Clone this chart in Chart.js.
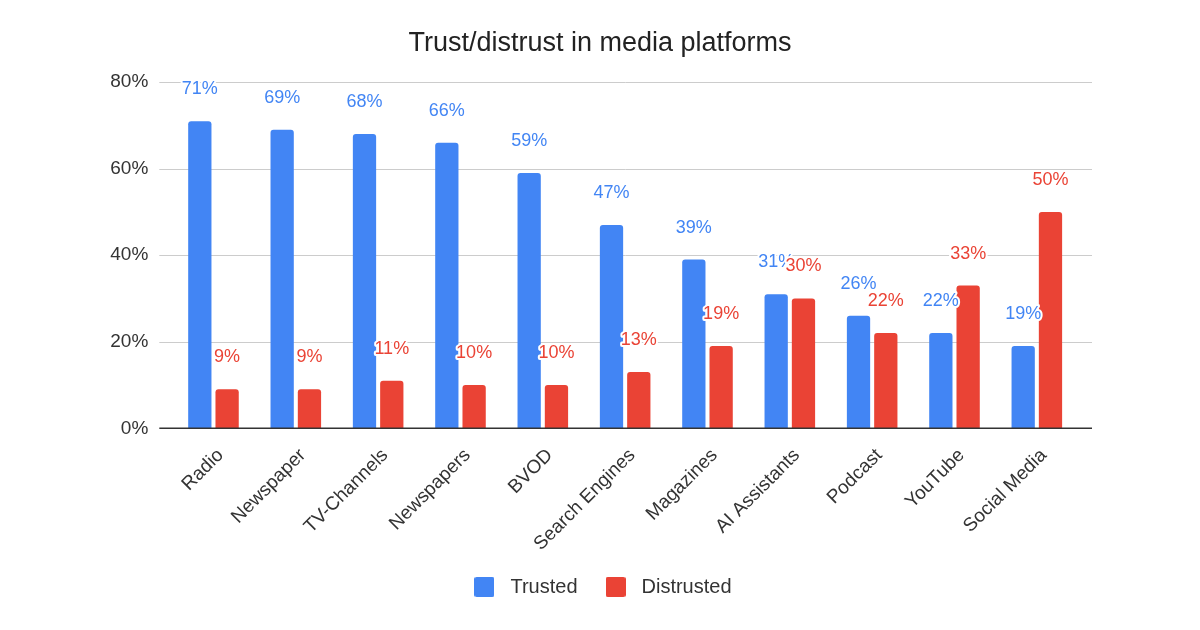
<!DOCTYPE html>
<html><head><meta charset="utf-8">
<script src="https://cdn.jsdelivr.net/npm/chart.js@4.4.0/dist/chart.umd.min.js"></script>
<style>html,body{margin:0;padding:0;background:#fff}#wrap{width:1200px;height:630px}</style>
</head><body><div id="wrap"><canvas id="c" width="1200" height="630"></canvas></div>
<script>
const categories = ['Radio','Newspaper','TV-Channels','Newspapers','BVOD','Search Engines','Magazines','AI Assistants','Podcast','YouTube','Social Media'];
const trusted = [71,69,68,66,59,47,39,31,26,22,19];
const distrusted = [9,9,11,10,10,13,19,30,22,33,50];
const yTicks = [0,20,40,60,80];
const seriesNames = ['Trusted','Distrusted'];
const titleText = 'Trust/distrust in media platforms';

const FONT = 'Arial, "Liberation Sans", sans-serif';
const BLUE = '#4285F4', RED = '#EA4335';

function swatch(color) {
  const c = document.createElement('canvas');
  c.width = 20; c.height = 20;
  const g = c.getContext('2d');
  g.fillStyle = color;
  g.beginPath();
  if (g.roundRect) g.roundRect(0, 0, 20, 20, 2); else g.rect(0, 0, 20, 20);
  g.fill();
  return c;
}

const gridLines = {
  id: 'gridLines',
  beforeDatasetsDraw(chart) {
    const {ctx, chartArea: a, scales: {y}} = chart;
    ctx.save();
    ctx.strokeStyle = '#cccccc';
    ctx.lineWidth = 1;
    yTicks.forEach(v => {
      if (v === 0) return;
      const py = Math.round(y.getPixelForValue(v)) + 0.5;
      ctx.beginPath(); ctx.moveTo(a.left - 13, py); ctx.lineTo(a.right + 14, py); ctx.stroke();
    });
    ctx.restore();
  },
  afterDatasetsDraw(chart) {
    const {ctx, chartArea: a, scales: {y}} = chart;
    ctx.save();
    ctx.strokeStyle = '#333333';
    ctx.lineWidth = 1.5;
    const py = y.getPixelForValue(0);
    ctx.beginPath(); ctx.moveTo(a.left - 13, py); ctx.lineTo(a.right + 14, py); ctx.stroke();
    ctx.restore();
  }
};

const valueLabels = {
  id: 'valueLabels',
  afterDatasetsDraw(chart) {
    const ctx = chart.ctx;
    ctx.save();
    ctx.font = '18px ' + FONT;
    ctx.textAlign = 'center';
    ctx.textBaseline = 'middle';
    ctx.lineJoin = 'round';
    chart.data.datasets.forEach((ds, i) => {
      const meta = chart.getDatasetMeta(i);
      meta.data.forEach((bar, j) => {
        const txt = ds.data[j] + '%';
        const x = bar.x, yy = bar.y - 32;
        ctx.lineWidth = 4; ctx.strokeStyle = '#ffffff'; ctx.strokeText(txt, x, yy);
        ctx.fillStyle = ds.backgroundColor; ctx.fillText(txt, x, yy);
      });
    });
    ctx.restore();
  }
};

new Chart(document.getElementById('c'), {
  type: 'bar',
  data: {
    labels: categories,
    datasets: [
      {label: seriesNames[0], data: trusted, backgroundColor: BLUE, pointStyle: swatch(BLUE),
       borderRadius: {topLeft: 3, topRight: 3, bottomLeft: 0, bottomRight: 0}, borderSkipped: false,
       categoryPercentage: 0.663, barPercentage: 0.853},
      {label: seriesNames[1], data: distrusted, backgroundColor: RED, pointStyle: swatch(RED),
       borderRadius: {topLeft: 3, topRight: 3, bottomLeft: 0, bottomRight: 0}, borderSkipped: false,
       categoryPercentage: 0.663, barPercentage: 0.853}
    ]
  },
  options: {
    responsive: false,
    animation: false,
    devicePixelRatio: 1,
    layout: {padding: {left: 60, right: 60, top: 0, bottom: 23}},
    scales: {
      x: {
        type: 'category',
        offset: true,
        grid: {display: false, drawTicks: false},
        border: {display: false},
        ticks: {font: {family: FONT, size: 19}, color: '#333333', minRotation: 45, maxRotation: 45, autoSkip: false, padding: 16, labelOffset: 7},
        afterFit(s) { s.height = 126.7; }
      },
      y: {
        min: 0, max: 80,
        afterBuildTicks(s) { s.ticks = yTicks.map(v => ({value: v})); },
        grid: {display: false, drawTicks: false},
        border: {display: false},
        ticks: {font: {family: FONT, size: 19}, color: '#333333', padding: 24, callback: v => v + '%'},
        afterFit(s) { s.width = 112.3; }
      },
      yRightSpace: {
        position: 'right',
        min: 0, max: 80,
        grid: {display: false, drawTicks: false},
        border: {display: false},
        ticks: {display: false},
        afterFit(s) { s.width = 62; }
      }
    },
    plugins: {
      title: {display: true, text: titleText, color: '#222222',
              font: {family: FONT, size: 27, weight: 'normal'}, padding: {top: 27.3, bottom: 22.5}},
      legend: {position: 'bottom',
               labels: {font: {family: FONT, size: 20}, color: '#333333', usePointStyle: true, pointStyleWidth: 32,
                        boxWidth: 20, boxHeight: 20, padding: 22}},
      tooltip: {enabled: false}
    }
  },
  plugins: [gridLines, valueLabels]
});
</script></body></html>
